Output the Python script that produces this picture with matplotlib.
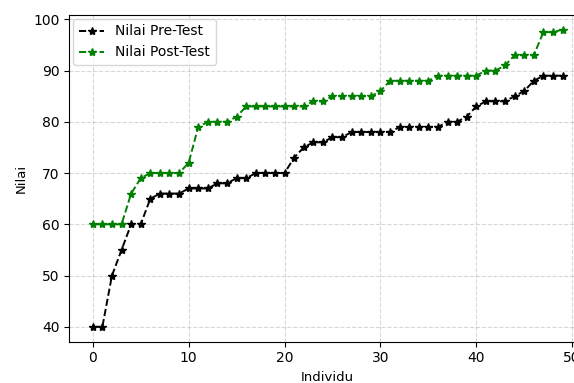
import matplotlib.pyplot as plt

# Data nilai per individu
individu = list(range(50))
pre_test = [40, 40, 50, 55, 60, 60, 65, 66, 66, 66,
            67, 67, 67, 68, 68, 69, 69, 70, 70, 70,
            70, 73, 75, 76, 76, 77, 77, 78, 78, 78,
            78, 78, 79, 79, 79, 79, 79, 80, 80, 81,
            83, 84, 84, 84, 85, 86, 88, 89, 89, 89]
post_test = [60, 60, 60, 60, 66, 69, 70, 70, 70, 70,
             72, 79, 80, 80, 80, 81, 83, 83, 83, 83,
             83, 83, 83, 84, 84, 85, 85, 85, 85, 85,
             86, 88, 88, 88, 88, 88, 89, 89, 89, 89,
             89, 90, 90, 91, 93, 93, 93, 97.5, 97.5, 98]

fig = plt.figure(figsize=(5.74, 3.83), dpi=100)
# gambar aslinya terpotong di kanan, jadi sumbu melewati tepi figure
ax = fig.add_axes([0.1207, 0.1078, 0.9003, 0.8538])

ax.plot(individu, pre_test, linestyle='--', marker='*', color='black',
        linewidth=1.4, markersize=6, label='Nilai Pre-Test')
ax.plot(individu, post_test, linestyle='--', marker='*', color='green',
        linewidth=1.4, markersize=6, label='Nilai Post-Test')

ax.set_xlabel('Individu', fontsize=9.5)
ax.set_ylabel('Nilai', fontsize=9.5)
ax.tick_params(labelsize=10)
ax.grid(True, linestyle='--', alpha=0.5)
ax.legend(loc='upper left', fontsize=10, handlelength=1.8,
          borderaxespad=0.3)

fig.savefig('out.png', dpi=100)
